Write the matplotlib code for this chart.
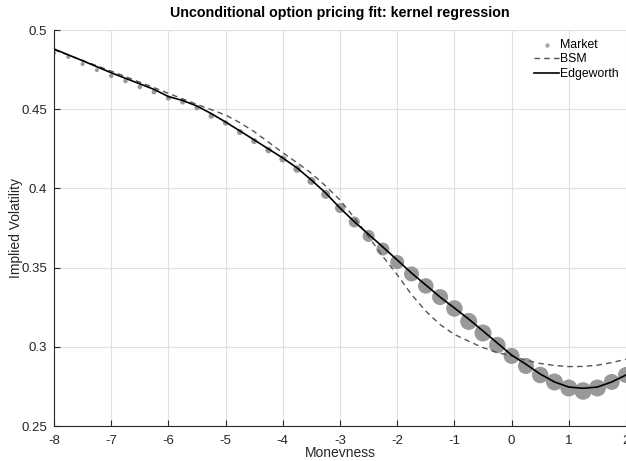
import numpy as np
import matplotlib
matplotlib.use('Agg')
import matplotlib.pyplot as plt
from matplotlib.ticker import FuncFormatter

plt.rcParams['font.family'] = ['Liberation Sans', 'DejaVu Sans']
plt.rcParams['axes.unicode_minus'] = False

#%% data
moneyness = [-8, -7.75, -7.5, -7.25, -7, -6.75, -6.5, -6.25, -6, -5.75, -5.5,
             -5.25, -5, -4.75, -4.5, -4.25, -4, -3.75, -3.5, -3.25, -3,
             -2.75, -2.5, -2.25, -2, -1.75, -1.5, -1.25, -1, -0.75, -0.5,
             -0.25, 0, 0.25, 0.5, 0.75, 1, 1.25, 1.5, 1.75, 2]
market = [0.4855, 0.4830, 0.4785, 0.4747, 0.4710, 0.4678, 0.4640, 0.4609, 0.4570, 0.4545, 0.4508,
          0.4457, 0.4413, 0.4356, 0.4299, 0.4242, 0.4186, 0.4122, 0.4047, 0.3962, 0.3876,
          0.3788, 0.3700, 0.3617, 0.3535, 0.3460, 0.3384, 0.3314, 0.3242, 0.3160, 0.3087,
          0.3011, 0.2942, 0.2879, 0.2822, 0.2778, 0.2740, 0.2721, 0.2740, 0.2778, 0.2822]
# relative weight of each quote (bubble size)
market_weight = [4, 4, 4, 4, 4.5, 4.5, 4.5, 5, 5, 5, 5,
                 5.5, 5.5, 6, 6, 6.5, 7, 7.5, 8, 9, 10,
                 11, 12, 13, 14, 15, 15.5, 16, 16.5, 17, 17,
                 16.5, 16, 16, 16.5, 17, 17, 17.5, 17, 16, 16]
bsm = [0.4875, 0.4842, 0.4808, 0.4774, 0.4740, 0.4706, 0.4670, 0.4636, 0.4600, 0.4565, 0.4530,
       0.4497, 0.4463, 0.4415, 0.4358, 0.4292, 0.4225, 0.4162, 0.4095, 0.4015, 0.3927,
       0.3815, 0.3695, 0.3570, 0.3455, 0.3330, 0.3225, 0.3140, 0.3078, 0.3035, 0.2995,
       0.2964, 0.2942, 0.2915, 0.2895, 0.2882, 0.2875, 0.2876, 0.2884, 0.2900, 0.2922]
edgeworth = [0.4880, 0.4843, 0.4806, 0.4768, 0.4730, 0.4695, 0.4660, 0.4625, 0.4580, 0.4555, 0.4520,
             0.4472, 0.4419, 0.4363, 0.4306, 0.4249, 0.4192, 0.4129, 0.4053, 0.3971, 0.3876,
             0.3790, 0.3710, 0.3630, 0.3548, 0.3466, 0.3390, 0.3314, 0.3245, 0.3175, 0.3100,
             0.3024, 0.2948, 0.2890, 0.2828, 0.2778, 0.2746, 0.2738, 0.2746, 0.2778, 0.2822]
xticks = [-8, -7, -6, -5, -4, -3, -2, -1, 0, 1, 2]
yticks = [0.25, 0.3, 0.35, 0.4, 0.45, 0.5]

#%% plot
fig = plt.figure(figsize=(6.26, 4.61), dpi=100)
ax = fig.add_axes([54/626, 35/461, 572/626, 396/461])

sizes = (np.array(market_weight) * 0.72) ** 2
ax.scatter(moneyness, market, s=sizes, color='#999999', linewidths=0, zorder=2, label='Market')
ax.plot(moneyness, bsm, '--', color='#555555', lw=1.0, dashes=(4, 3), zorder=3, label='BSM')
ax.plot(moneyness, edgeworth, '-', color='black', lw=1.2, zorder=4, label='Edgeworth')

ax.set_xlim(-8, 2)
ax.set_ylim(0.25, 0.5)
ax.set_xticks(xticks)
ax.set_yticks(yticks)
ax.yaxis.set_major_formatter(FuncFormatter(lambda v, p: '%g' % v))
ax.grid(True, color='#e0e0e0', lw=0.8, zorder=0)
ax.set_axisbelow(True)
for s in ['top', 'right']:
    ax.spines[s].set_visible(False)
for s in ['left', 'bottom']:
    ax.spines[s].set_color('#262626')
    ax.spines[s].set_linewidth(0.8)
ax.tick_params(direction='in', length=4, width=0.8, colors='#262626', labelsize=9.5, pad=5)
ax.tick_params(axis='x', pad=6.5)

ax.set_title('Unconditional option pricing fit: kernel regression', fontsize=10.3,
             fontweight='bold', pad=9.5)
ax.set_xlabel('Monevness', fontsize=10, color='#262626', labelpad=-1)
ax.set_ylabel('Implied Volatility', fontsize=10, color='#262626', labelpad=-1)

leg = ax.legend(loc='upper right', bbox_to_anchor=(1.0, 0.996), frameon=False, fontsize=8.8,
                handlelength=2.0, handletextpad=0.1, labelspacing=0.2, borderaxespad=0.2,
                markerscale=1)
leg.legend_handles[0].set_sizes([10])
leg.legend_handles[0].set_color('#aaaaaa')

fig.savefig('out.png', dpi=100)
